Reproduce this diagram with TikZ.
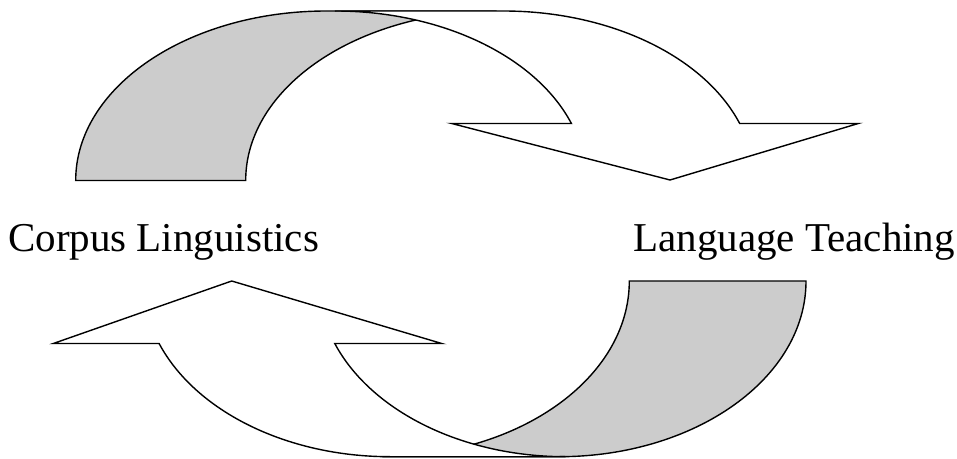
\documentclass[tikz,border=0pt]{standalone}
\usepackage{fontspec}
\setmainfont{Liberation Serif}
\definecolor{bandgray}{HTML}{CCCCCC}
\tikzset{
  backband/.style={draw=black, line width=1.4pt, fill=bandgray},
  frontband/.style={draw=black, line width=1.4pt, fill=white},
  lbl/.style={font=\fontsize{41}{49}\selectfont, inner sep=0pt}
}
\begin{document}
\begin{tikzpicture}[x=1pt,y=1pt]
\useasboundingbox (0,0) rectangle (957,458);
% top curved arrow: back band (grey)
\draw[backband] (75.7,277.5) arc[start angle=180,end angle=90,x radius=251pt,y radius=169.5pt]
  -- (496.7,447) arc[start angle=90,end angle=180,x radius=251pt,y radius=169.5pt] -- cycle;
% top curved arrow: front band with head
\draw[frontband] (335,447) -- (503.3,447)
  arc[start angle=90,end angle=19.65,x radius=251pt,y radius=169.5pt]
  -- (858.3,334.5) -- (670,278) -- (451.7,334.5) -- (571.4,334.5)
  arc[start angle=19.65,end angle=90,x radius=251pt,y radius=169.5pt] -- cycle;
% bottom curved arrow: back band (grey)
\draw[backband] (806,177) arc[start angle=0,end angle=-90,x radius=247pt,y radius=175.7pt]
  -- (382.3,1.3) arc[start angle=-90,end angle=0,x radius=247pt,y radius=175.7pt] -- cycle;
% bottom curved arrow: front band with head
\draw[frontband] (389.9,1.3) -- (565.6,1.3)
  arc[start angle=270,end angle=200.84,x radius=247pt,y radius=175.7pt]
  -- (441.7,114.5) -- (231.7,177) -- (53.3,114.5) -- (159.1,114.5)
  arc[start angle=200.84,end angle=270,x radius=247pt,y radius=175.7pt] -- cycle;
% labels
\node[lbl, anchor=base west] (cl) at (8,206.5) {Corpus Linguistics};
\node[lbl, anchor=base east] (lt) at (955,206.5) {Language Teaching};
\end{tikzpicture}
\end{document}
